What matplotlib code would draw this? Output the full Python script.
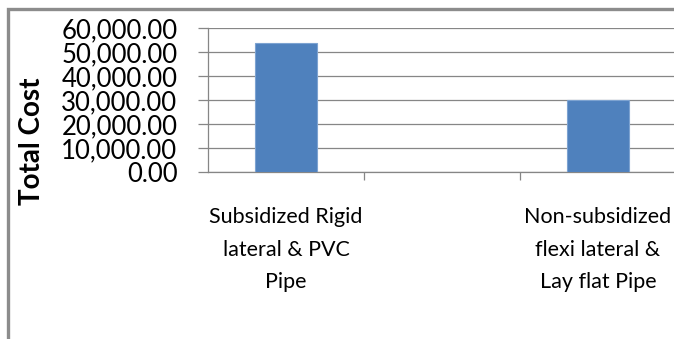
import matplotlib
matplotlib.use("Agg")
import matplotlib.pyplot as plt
import matplotlib.patches as patches
from matplotlib.ticker import FuncFormatter

categories = ["Subsidized Rigid\nlateral & PVC\nPipe", "",
              "Non-subsidized\nflexi lateral &\nLay flat Pipe"]
total_cost = [53600, 0, 30000]
yticks = [0, 10000, 20000, 30000, 40000, 50000, 60000]

W, H = 674, 339
fig = plt.figure(figsize=(W / 100, H / 100), dpi=100)
plt.rcParams['font.family'] = ['Lato', 'DejaVu Sans']

# outer chart border (right / bottom run off the image like the original)
border = patches.Rectangle((8 / W, -0.05), 1.2, 1 - 9 / H + 0.05,
                           transform=fig.transFigure, fill=False,
                           edgecolor='#8c8c8c', linewidth=2.4, clip_on=False)
fig.patches.append(border)

ax = fig.add_axes([208 / W, 1 - 172 / H, 468 / W, 144 / H])
x = range(len(categories))
vals = [v if v > 0 else float('nan') for v in total_cost]
ax.bar(x, vals, width=0.4, color='#4f81bd', edgecolor='#7da3d1', linewidth=0.8, zorder=3)

ax.set_xlim(-0.5, len(categories) - 0.5)
ax.set_ylim(0, 60000)
ax.set_yticks(yticks)
ax.yaxis.set_major_formatter(FuncFormatter(lambda v, p: f"{v:,.2f}"))
ax.tick_params(axis='y', labelsize=18.5, length=7, color='#868686', width=0.9, pad=15)
ax.grid(axis='y', color='#868686', linewidth=0.9, zorder=0)

# category boundaries get the tick marks, centres get the labels
ax.set_xticks([0.5, 1.5], minor=False)
ax.set_xticklabels([])
ax.set_xticks(list(x), minor=True)
ax.set_xticklabels(categories, minor=True, fontsize=15.5, linespacing=1.8)
ax.tick_params(axis='x', which='major', length=6, color='#868686', width=0.9)
ax.tick_params(axis='x', which='minor', length=0, pad=25)

for s in ['top', 'right']:
    ax.spines[s].set_visible(False)
for s in ['left', 'bottom']:
    ax.spines[s].set_color('#868686')
    ax.spines[s].set_linewidth(0.9)

fig.text(32 / W, 1 - 141 / H, "Total Cost", rotation=90, fontsize=20,
         fontweight='bold', ha='center', va='center')

fig.savefig("out.png", dpi=100)
